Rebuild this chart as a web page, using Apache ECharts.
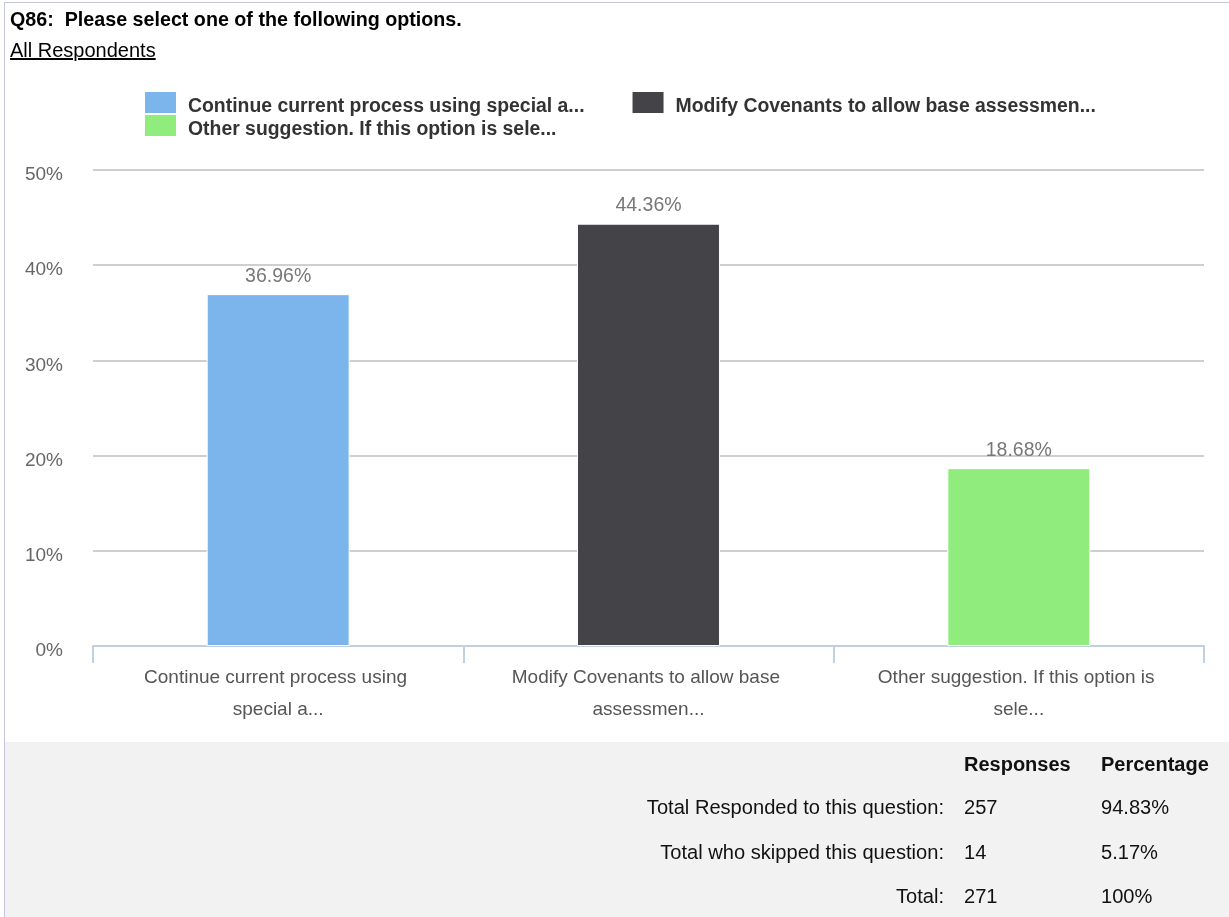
<!DOCTYPE html>
<html>
<head>
<meta charset="utf-8">
<script src="https://cdn.jsdelivr.net/npm/echarts@6/dist/echarts.min.js"></script>
<style>
  body { margin: 0; background: #fff; font-family: Arial, "Liberation Sans", sans-serif; }
  #frame { position: absolute; left: 4px; top: 2px; width: 1225px; height: 915px;
           border-left: 1px solid #c4c6d8; border-top: 1px solid #c4c6d8; }
  #chart { position: absolute; left: 0; top: 0; width: 1229px; height: 917px; }
  .q { position: absolute; left: 10px; top: 7px; font-size: 19.7px; line-height: 24px; font-weight: bold; color: #000; }
  .resp { position: absolute; left: 10px; top: 38px; font-size: 20px; line-height: 24px; color: #000; text-decoration: underline; }
  #summary { position: absolute; left: 5px; top: 742px; width: 1224px; height: 175px; background: #f2f2f2; }
  #summary div { position: absolute; font-size: 20.1px; line-height: 24px; color: #111; white-space: nowrap; }
  #summary .h { font-weight: bold; font-size: 20px; }
</style>
</head>
<body>
<div id="chart"></div>
<div id="frame"></div>
<div class="q">Q86:&nbsp; Please select one of the following options.</div>
<div class="resp">All Respondents</div>
<div id="summary"></div>
<script>
// chart data
var categories = [
  'Continue current process using special a...',
  'Modify Covenants to allow base assessmen...',
  'Other suggestion. If this option is sele...'
];
var percents = [36.96, 44.36, 18.68];
var barColors = ['#7cb5ec', '#434348', '#90ed7d'];

// summary table
var rowLabels = ['Total Responded to this question:', 'Total who skipped this question:', 'Total:'];
var rowResponses = ['257', '14', '271'];
var rowPercentages = ['94.83%', '5.17%', '100%'];

// build summary table (positions relative to the grey box)
var box = document.getElementById('summary');
var html = '<div class="h" style="left:959px;top:10px">Responses</div>' +
           '<div class="h" style="left:1096px;top:10px">Percentage</div>';
for (var i = 0; i < rowLabels.length; i++) {
  var rowY = 53 + i * 44.5;
  html += '<div style="right:285px;top:' + rowY + 'px">' + rowLabels[i] + '</div>';
  html += '<div style="left:959px;top:' + rowY + 'px">' + rowResponses[i] + '</div>';
  html += '<div style="left:1096px;top:' + rowY + 'px">' + rowPercentages[i] + '</div>';
}
box.innerHTML = html;

var myChart = echarts.init(document.getElementById('chart'));

var series = [];
for (var k = 0; k < categories.length; k++) {
  var d = categories.map(function(c, j){ return j === k ? percents[k] : '-'; });
  series.push({
    name: categories[k],
    type: 'bar',
    stack: 'all',
    barWidth: '38.6%',
    data: d,
    itemStyle: { color: barColors[k], borderColor: '#fff', borderWidth: 1 },
    label: {
      show: true,
      position: 'top',
      distance: 8,
      color: '#777',
      fontSize: 19.5,
      fontFamily: 'Arial',
      formatter: function(p){ return p.value.toFixed(2) + '%'; }
    }
  });
}

// legend text pushed a little below the middle of the swatch
var legendText = {
  color: '#333', fontSize: 19.4, fontWeight: 'bold', fontFamily: 'Arial',
  rich: {
    t: { color: '#333', fontSize: 19.4, fontWeight: 'bold', fontFamily: 'Arial', padding: [8, 0, 0, 6] }
  }
};

option = {
  animation: false,
  legend: [
    {
      data: [categories[0], categories[1]],
      left: 143, top: 90, padding: 0,
      itemWidth: 33, itemHeight: 23, itemGap: 46,
      icon: 'rect',
      formatter: '{t|{name}}',
      textStyle: legendText
    },
    {
      data: [categories[2]],
      left: 143, top: 113, padding: 0,
      itemWidth: 33, itemHeight: 23,
      icon: 'rect',
      formatter: '{t|{name}}',
      textStyle: legendText
    }
  ],
  grid: { left: 93, right: 25, top: 170, bottom: 271, containLabel: false },
  xAxis: {
    type: 'category',
    data: categories,
    axisLine: { lineStyle: { color: '#c0d0e0', width: 2 } },
    axisTick: { show: true, length: 17, lineStyle: { color: '#c0d0e0', width: 2 } },
    axisLabel: {
      color: '#555',
      fontSize: 19,
      fontFamily: 'Arial',
      margin: 16,
      lineHeight: 32,
      width: 300,
      overflow: 'break',
      interval: 0
    }
  },
  yAxis: {
    type: 'value',
    min: 0, max: 50, interval: 10,
    axisLabel: {
      formatter: '{value}%', color: '#666', fontSize: 19, fontFamily: 'Arial',
      margin: 30, verticalAlign: 'top', lineHeight: 10
    },
    splitLine: { lineStyle: { color: '#cfcfcf', width: 2 } },
    axisLine: { show: false },
    axisTick: { show: false }
  },
  series: series
};

myChart.setOption(option);
</script>
</body>
</html>
